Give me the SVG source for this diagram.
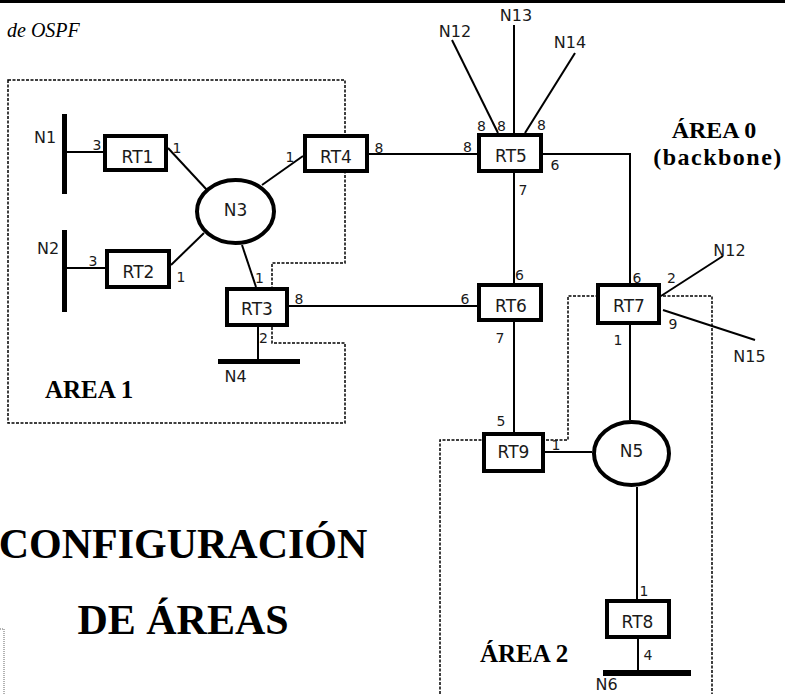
<svg xmlns="http://www.w3.org/2000/svg" width="785" height="694" viewBox="0 0 785 694">
<style>
.rt{fill:#fff;stroke:#000;stroke-width:4}
.net{fill:#fff;stroke:#000;stroke-width:4}
.lbl{font-family:"DejaVu Sans",Verdana,sans-serif;font-size:17px;fill:#1a1a1a;text-anchor:middle}
.nl{font-family:"DejaVu Sans",Verdana,sans-serif;font-size:16px;fill:#1a1a1a;text-anchor:middle}
.port{font-family:"DejaVu Sans",Verdana,sans-serif;font-size:14px;fill:#1a1a1a;text-anchor:middle}
.ln{stroke:#000;stroke-width:2;fill:none}
.bar{stroke:#000;fill:none}
.area{fill:none;stroke:#000;stroke-width:1.5;stroke-dasharray:3,1.5}
.title{font-family:"Liberation Serif","Times New Roman",serif;font-weight:bold;fill:#000}
</style>
<rect width="785" height="694" fill="#fff"/>
<rect x="0" y="0" width="785" height="3" fill="#000"/>
<text x="7" y="37" font-family="Liberation Serif, Times New Roman, serif" font-style="italic" font-size="20">de OSPF</text>

<g id="areas">
<path class="area" d="M8,80 H345 V263 H272 V343 H345 V423 H8 Z"/>
<path class="area" d="M440,694 V440 H568 V296 H712 V694"/>
<path d="M0,629 H4 V694" fill="none" stroke="#999" stroke-width="1.5" stroke-dasharray="1,1"/>
</g>

<g id="connectors">
<path class="bar" stroke-width="5" d="M64.5,114 V194"/>
<path class="bar" stroke-width="5" d="M64.5,230 V312"/>
<path class="bar" stroke-width="5" d="M218,361.5 H300"/>
<path class="bar" stroke-width="6" d="M603,673 H691"/>
<path class="ln" d="M67,152 H103"/>
<path class="ln" d="M67,268 H105"/>
<path class="ln" d="M168,148 L207,190"/>
<path class="ln" d="M262,185 L303,156"/>
<path class="ln" d="M171,265 L204,233"/>
<path class="ln" d="M242,245 L256,287"/>
<path class="ln" d="M369,154 H477"/>
<path class="ln" d="M289,306 H477"/>
<path class="ln" d="M514,173 V283"/>
<path class="ln" d="M543,154 H630 V283"/>
<path class="ln" d="M498,133 L452,40"/>
<path class="ln" d="M514,133 V25"/>
<path class="ln" d="M525,133 L575,53"/>
<path class="ln" d="M514,322 V432"/>
<path class="ln" d="M661,296 L723,256"/>
<path class="ln" d="M663,310 L755,340"/>
<path class="ln" d="M630,325 V420"/>
<path class="ln" d="M545,452 H592"/>
<path class="ln" d="M637,487 V599"/>
<path class="ln" d="M258,327 V359"/>
<path class="ln" d="M638,639 V670"/>
</g>

<g id="RT1"><rect class="rt" x="105" y="136" width="61" height="34"/><text class="lbl" x="137.5" y="163">RT1</text></g>
<g id="RT2"><rect class="rt" x="107" y="251" width="62" height="36"/><text class="lbl" x="138.5" y="278">RT2</text></g>
<g id="RT3"><rect class="rt" x="227" y="289" width="60" height="36"/><text class="lbl" x="257" y="315">RT3</text></g>
<g id="RT4"><rect class="rt" x="305" y="136" width="62" height="35"/><text class="lbl" x="336" y="163">RT4</text></g>
<g id="RT5"><rect class="rt" x="479" y="135" width="62" height="36"/><text class="lbl" x="511" y="162">RT5</text></g>
<g id="RT6"><rect class="rt" x="479" y="285" width="62" height="35"/><text class="lbl" x="511" y="312">RT6</text></g>
<g id="RT7"><rect class="rt" x="598" y="285" width="61" height="38"/><text class="lbl" x="629" y="312">RT7</text></g>
<g id="RT8"><rect class="rt" x="607" y="601" width="62" height="36"/><text class="lbl" x="637.5" y="628">RT8</text></g>
<g id="RT9"><rect class="rt" x="484" y="434" width="59" height="37"/><text class="lbl" x="513.5" y="458">RT9</text></g>
<g id="N3"><ellipse class="net" cx="235.5" cy="211.5" rx="38.5" ry="31.5"/><text class="lbl" x="235.5" y="216">N3</text></g>
<g id="N5"><ellipse class="net" cx="631.5" cy="453.5" rx="37.5" ry="31.5"/><text class="lbl" x="631.5" y="457">N5</text></g>

<g id="N1"><text class="nl" x="45" y="143">N1</text></g>
<g id="N2"><text class="nl" x="48" y="254">N2</text></g>
<g id="N4"><text class="nl" x="235.5" y="382">N4</text></g>
<g id="N6"><text class="nl" x="606.5" y="690">N6</text></g>
<g id="N12a"><text class="nl" x="455" y="37">N12</text></g>
<g id="N13"><text class="nl" x="516" y="21">N13</text></g>
<g id="N14"><text class="nl" x="570" y="48">N14</text></g>
<g id="N12b"><text class="nl" x="729.5" y="256">N12</text></g>
<g id="N15"><text class="nl" x="749.5" y="362">N15</text></g>

<g id="ports">
<text class="port" x="97" y="150">3</text>
<text class="port" x="177" y="153">1</text>
<text class="port" x="290" y="162">1</text>
<text class="port" x="379" y="153">8</text>
<text class="port" x="93" y="266">3</text>
<text class="port" x="181" y="282">1</text>
<text class="port" x="259.5" y="283">1</text>
<text class="port" x="299" y="304">8</text>
<text class="port" x="263.5" y="343">2</text>
<text class="port" x="481.5" y="131">8</text>
<text class="port" x="501.5" y="131">8</text>
<text class="port" x="541.5" y="130">8</text>
<text class="port" x="467.5" y="152">8</text>
<text class="port" x="555" y="170">6</text>
<text class="port" x="523" y="195">7</text>
<text class="port" x="519.5" y="280">6</text>
<text class="port" x="465" y="304">6</text>
<text class="port" x="500" y="343">7</text>
<text class="port" x="501" y="426">5</text>
<text class="port" x="556" y="450">1</text>
<text class="port" x="637" y="283">6</text>
<text class="port" x="671.5" y="283">2</text>
<text class="port" x="673" y="329">9</text>
<text class="port" x="618" y="345">1</text>
<text class="port" x="644" y="596">1</text>
<text class="port" x="648" y="660">4</text>
</g>

<g id="titles">
<text class="title" x="45" y="398" font-size="25">AREA 1</text>
<text class="title" x="714" y="138" font-size="24" text-anchor="middle">ÁREA 0</text>
<text class="title" x="718" y="165" font-size="24" text-anchor="middle" letter-spacing="1.5">(backbone)</text>
<text class="title" x="480" y="662" font-size="25">ÁREA 2</text>
<text class="title" x="183" y="558" font-size="42" text-anchor="middle">CONFIGURACIÓN</text>
<text class="title" x="183" y="634" font-size="42" text-anchor="middle">DE ÁREAS</text>
</g>
</svg>
